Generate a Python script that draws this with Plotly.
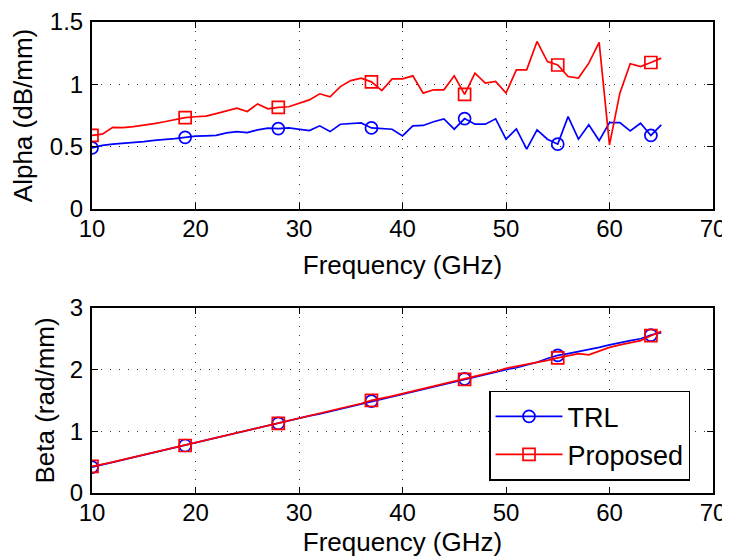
import plotly.graph_objects as go
from plotly.subplots import make_subplots

freq = list(range(10, 66))

alpha_trl = [0.49, 0.51, 0.52, 0.525, 0.535, 0.54, 0.55, 0.555, 0.565, 0.575,
             0.585, 0.587, 0.59, 0.61, 0.62, 0.613, 0.635, 0.648, 0.645, 0.65,
             0.64, 0.629, 0.667, 0.621, 0.68, 0.688, 0.69, 0.65, 0.648, 0.64,
             0.586, 0.667, 0.67, 0.70, 0.723, 0.64, 0.725, 0.68, 0.68, 0.723,
             0.56, 0.643, 0.48, 0.635, 0.56, 0.52, 0.741, 0.56, 0.675, 0.549,
             0.693, 0.693, 0.627, 0.688, 0.59, 0.675]

alpha_prop = [0.59, 0.60, 0.655, 0.652, 0.66, 0.67, 0.685, 0.70, 0.715, 0.733,
              0.74, 0.745, 0.765, 0.785, 0.809, 0.782, 0.843, 0.803, 0.815, 0.82,
              0.849, 0.875, 0.924, 0.90, 0.982, 1.03, 1.05, 1.02, 0.95, 1.044,
              1.044, 1.068, 0.929, 0.956, 0.956, 1.068, 0.92, 1.09, 1.01, 1.023,
              0.93, 1.116, 1.116, 1.344, 1.183, 1.155, 1.063, 1.05, 1.17, 1.337,
              0.514, 0.929, 1.165, 1.143, 1.175, 1.21]

beta_trl = [0.42, 0.46, 0.50, 0.54, 0.58, 0.61, 0.65, 0.69, 0.73, 0.77,
            0.81, 0.85, 0.89, 0.93, 0.97, 1.01, 1.05, 1.09, 1.13, 1.17,
            1.21, 1.25, 1.28, 1.32, 1.36, 1.41, 1.45, 1.49, 1.53, 1.56,
            1.60, 1.64, 1.68, 1.72, 1.77, 1.81, 1.85, 1.89, 1.93, 1.97,
            2.00, 2.03, 2.07, 2.12, 2.18, 2.23, 2.26, 2.29, 2.32, 2.36,
            2.40, 2.44, 2.47, 2.50, 2.56, 2.60]

beta_prop = [0.43, 0.46, 0.50, 0.54, 0.58, 0.62, 0.65, 0.69, 0.73, 0.77,
             0.81, 0.85, 0.89, 0.93, 0.97, 1.01, 1.05, 1.09, 1.13, 1.17,
             1.21, 1.25, 1.29, 1.33, 1.37, 1.41, 1.45, 1.50, 1.53, 1.57,
             1.61, 1.65, 1.69, 1.73, 1.77, 1.80, 1.84, 1.89, 1.93, 1.97,
             2.02, 2.05, 2.08, 2.11, 2.15, 2.19, 2.22, 2.26, 2.24, 2.30,
             2.36, 2.40, 2.44, 2.47, 2.55, 2.62]

marker_freqs = [10, 19, 28, 37, 46, 55, 64]

x_ticks = [10, 20, 30, 40, 50, 60, 70]
alpha_ticks = [0, 0.5, 1, 1.5]
alpha_tick_labels = ["0", "0.5", "1", "1.5"]
beta_ticks = [0, 1, 2, 3]
beta_tick_labels = ["0", "1", "2", "3"]

marker_idx = [freq.index(f) for f in marker_freqs]

FONT = "Liberation Sans, Arial, sans-serif"
BLUE = "#0000FF"
RED = "#FF0000"
LW = 1.7


def series(y, name, color, symbol, show):
    return go.Scatter(
        x=freq, y=y, mode="lines+markers", name=name, showlegend=show,
        line=dict(color=color, width=LW),
        marker=dict(symbol=symbol, size=12, color=color, opacity=1,
                    line=dict(width=LW, color=color)),
        selectedpoints=marker_idx,
        selected=dict(marker=dict(opacity=1)),
        unselected=dict(marker=dict(opacity=0)),
    )


fig = make_subplots(rows=2, cols=1, vertical_spacing=0.21)
fig.add_trace(series(alpha_trl, "TRL", BLUE, "circle-open", False), row=1, col=1)
fig.add_trace(series(alpha_prop, "Proposed", RED, "square-open", False), row=1, col=1)
fig.add_trace(series(beta_trl, "TRL", BLUE, "circle-open", True), row=2, col=1)
fig.add_trace(series(beta_prop, "Proposed", RED, "square-open", True), row=2, col=1)

axis_common = dict(showline=True, linecolor="black", linewidth=2, mirror="allticks",
                   ticks="inside", ticklen=6, tickcolor="black", tickwidth=1.2,
                   showgrid=True, gridcolor="#333333", gridwidth=1, griddash="1px,8px",
                   zeroline=False, tickfont=dict(family=FONT, size=24, color="black"))

TITLE_FONT = dict(family=FONT, size=26, color="black")

for r in (1, 2):
    fig.update_xaxes(range=[10, 70], tickvals=x_ticks, ticktext=[str(t) for t in x_ticks],
                     title=dict(text="Frequency (GHz)", font=TITLE_FONT),
                     automargin=False, ticklabelstandoff=-3,
                     row=r, col=1, **axis_common)

fig.update_yaxes(range=[0, 1.5], tickvals=alpha_ticks, ticktext=alpha_tick_labels,
                 title=dict(text="Alpha (dB/mm)", font=TITLE_FONT, standoff=13),
                 automargin="left", ticklabelstandoff=2,
                 row=1, col=1, **axis_common)
fig.update_yaxes(range=[0, 3], tickvals=beta_ticks, ticktext=beta_tick_labels,
                 title=dict(text="Beta (rad/mm)", font=TITLE_FONT, standoff=8),
                 automargin="left", ticklabelstandoff=2,
                 row=2, col=1, **axis_common)

# the page body has an 8px default margin, so the figure is 722x549
fig.update_layout(
    width=722, height=549,
    margin=dict(l=84, r=17, t=14, b=64),
    paper_bgcolor="white", plot_bgcolor="white",
    font=dict(family=FONT, size=24, color="black"),
    legend=dict(x=0.963, y=0.026, xanchor="right", yanchor="bottom",
                bgcolor="white", bordercolor="black", borderwidth=1.5,
                font=dict(family=FONT, size=27, color="black"),
                itemwidth=67),
)
fig.layout.yaxis.domain = [0.603, 1.0]
fig.layout.yaxis2.domain = [0.0, 0.393]

fig.write_html("out.html")
